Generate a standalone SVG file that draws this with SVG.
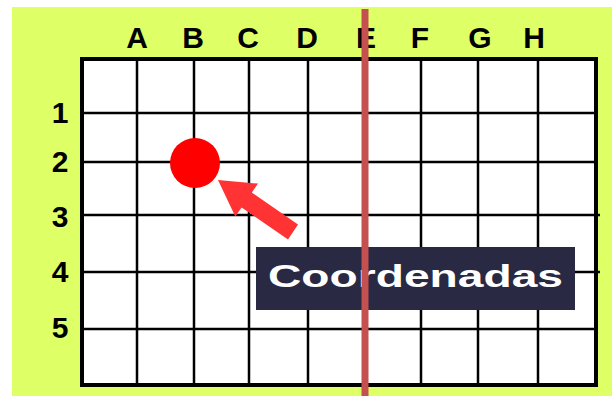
<svg xmlns="http://www.w3.org/2000/svg" width="612" height="396" viewBox="0 0 612 396">
<style>
.bg{fill:#ffffff}
.panel{fill:#dfff66}
.grid{stroke:#000;stroke-width:2.5;fill:none}
.border{stroke:#000;stroke-width:4;fill:#fff}
.lbl{font-family:"Liberation Sans",Arial,sans-serif;font-weight:bold;font-size:30px;fill:#000;text-anchor:middle}
.cap{font-family:"Liberation Sans",Arial,sans-serif;font-weight:bold;font-size:32px;fill:#fff}
</style>
<rect class="bg" x="0" y="0" width="612" height="396"/>
<rect class="panel" x="12" y="7" width="600" height="389"/>
<g id="grid">
<rect class="border" x="82" y="59" width="514" height="326"/>
<path class="grid" d="M137 59V385M194 59V385M249 59V385M308 59V385M365 59V385M421 59V385M478 59V385M538 59V385M82 113H596M82 162H596M82 215H600M82 272H600M82 329H596"/>
</g>
<g id="column-labels">
<text class="lbl" x="137" y="48">A</text>
<text class="lbl" x="193" y="48">B</text>
<text class="lbl" x="248" y="48">C</text>
<text class="lbl" x="307" y="48">D</text>
<text class="lbl" x="366" y="48">E</text>
<text class="lbl" x="420" y="48">F</text>
<text class="lbl" x="480" y="48">G</text>
<text class="lbl" x="534" y="48">H</text>
</g>
<g id="row-labels">
<text class="lbl" x="60" y="123">1</text>
<text class="lbl" x="60" y="172">2</text>
<text class="lbl" x="60" y="227">3</text>
<text class="lbl" x="60" y="282">4</text>
<text class="lbl" x="60" y="338">5</text>
</g>
<g id="point">
<circle cx="195" cy="163" r="25" fill="#ff0000"/>
</g>
<g id="connectors">
<polygon fill="#ff3333" points="218,180 258,183.6 251.8,192.6 298,224.6 288,239.4 241.6,207.4 235.3,216.4"/>
</g>
<g id="label">
<rect x="256" y="247" width="319" height="63" fill="#2a2944"/>
<text class="cap" x="268" y="287" textLength="295" lengthAdjust="spacingAndGlyphs">Coordenadas</text>
</g>
<line x1="365" y1="9" x2="365" y2="396" stroke="#c4504f" stroke-width="7"/>
</svg>
